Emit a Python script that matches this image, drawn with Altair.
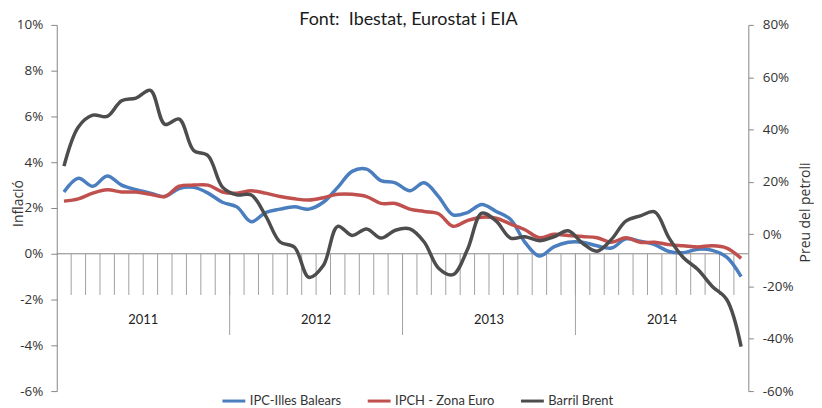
import altair as alt
import pandas as pd

# ---------------- data ----------------
years = ["2011", "2012", "2013", "2014"]
series_names = ["IPC-Illes Balears", "IPCH - Zona Euro", "Barril Brent"]
series_colors = ["#4a7ebf", "#c0504d", "#4d4d4d"]

# monthly values Jan 2011 .. Dec 2014 (%)
ipc_balears = [2.7, 3.3, 2.95, 3.4, 3.0, 2.8, 2.65, 2.5, 2.85, 2.9, 2.65, 2.25,
               2.05, 1.4, 1.8, 1.95, 2.05, 1.95, 2.25, 2.9, 3.6, 3.7, 3.2, 3.1,
               2.75, 3.1, 2.5, 1.7, 1.8, 2.15, 1.85, 1.5, 0.5, -0.1, 0.3, 0.5,
               0.5, 0.35, 0.25, 0.65, 0.55, 0.4, 0.1, 0.05, 0.2, 0.15, -0.15, -1.0]
ipch_euro = [2.3, 2.4, 2.65, 2.8, 2.7, 2.7, 2.6, 2.5, 2.95, 3.0, 3.0, 2.7,
             2.65, 2.75, 2.65, 2.5, 2.4, 2.35, 2.45, 2.6, 2.6, 2.5, 2.2, 2.2,
             1.95, 1.85, 1.75, 1.2, 1.45, 1.6, 1.55, 1.3, 1.05, 0.7, 0.85, 0.8,
             0.75, 0.7, 0.5, 0.7, 0.5, 0.5, 0.4, 0.35, 0.3, 0.35, 0.25, -0.2]
barril_brent = [26, 41, 45.5, 45, 51, 52, 55, 42, 44, 32, 30, 18,
                15, 15, 7, -3, -5, -16.5, -12, 3, -0.5, 2, -1.5, 1.5,
                2, -3, -13, -15.5, -6, 8, 5, -1.5, -1, -2.5, -1, 1.3,
                -3.5, -6.5, -2, 5, 7, 8.5, -1.5, -9, -13.5, -20, -25, -43]

left_ticks = [-6, -4, -2, 0, 2, 4, 6, 8, 10]
right_ticks = [-60, -40, -20, 0, 20, 40, 60, 80]

n = len(ipc_balears)
pos = [i + 0.5 for i in range(n)]

left_df = pd.DataFrame({
    "pos": pos + pos,
    "value": ipc_balears + ipch_euro,
    "series": [series_names[0]] * n + [series_names[1]] * n,
})
right_df = pd.DataFrame({"pos": pos, "value": barril_brent,
                         "series": [series_names[2]] * n})
month_bounds = pd.DataFrame({"b": list(range(1, n))})
year_bounds = pd.DataFrame({"b": [12, 24, 36]})
year_labels = pd.DataFrame({"c": [6, 18, 30, 42], "year": years})
base_df = pd.DataFrame({"a": [0], "b": [n]})

# ---------------- layout / styling ----------------
W, H = 695, 368
ymin, ymax = left_ticks[0], left_ticks[-1]


def left_px(v):
    # pixel row of a left-axis value (category axis decoration only)
    return H * (ymax - v) / (ymax - ymin)


axis_gray = "#868686"
tick_gray = "#a0a0a0"
label_font = "Open Sans"
text_font = "Lato"

xscale = alt.Scale(domain=[0, n], nice=False, zero=False)
yleft_scale = alt.Scale(domain=[ymin, ymax], nice=False, zero=False)
yright_scale = alt.Scale(domain=[right_ticks[0], right_ticks[-1]], nice=False, zero=False)

color = alt.Color(
    "series:N",
    scale=alt.Scale(domain=series_names, range=series_colors),
    legend=alt.Legend(
        orient="none", legendX=165, legendY=365, direction="horizontal",
        title=None, symbolType="stroke", symbolSize=529, symbolStrokeWidth=3,
        labelFont=text_font, labelFontSize=13, labelColor="#333333",
        columnPadding=20, labelOffset=3,
    ),
)

left_axis = alt.Axis(
    orient="left", values=left_ticks, labelExpr="datum.value + '%'", title="Inflació",
    grid=False, tickSize=6, labelPadding=8, domainColor=axis_gray,
    tickColor=axis_gray, labelFont=label_font, labelFontSize=13.5,
    labelColor="#333333", titleFont=label_font, titleFontSize=14,
    titleFontWeight="normal", titleColor="#333333", titleBaseline="middle",
    titleX=-38, titleY=179,
)
right_axis = alt.Axis(
    orient="right", values=right_ticks, labelExpr="datum.value + '%'",
    title="Preu del petroli", grid=False, tickSize=5, labelPadding=9,
    domainColor=axis_gray, tickColor=axis_gray, labelFont=label_font,
    labelFontSize=13.5, labelColor="#333333", titleFont=label_font,
    titleFontSize=14, titleFontWeight="normal", titleColor="#333333",
    titleAngle=270, titleBaseline="middle", titleX=57, titleY=188,
)

baseline = alt.Chart(base_df).mark_rule(color=axis_gray, strokeWidth=1).encode(
    x=alt.X("a:Q", scale=xscale, axis=None),
    x2="b:Q",
    y=alt.value(left_px(0)),
)
month_ticks = alt.Chart(month_bounds).mark_rule(color=tick_gray, strokeWidth=1).encode(
    x=alt.X("b:Q", scale=xscale, axis=None),
    y=alt.value(left_px(0)),
    y2=alt.value(left_px(-1.8)),
)
year_ticks = alt.Chart(year_bounds).mark_rule(color=tick_gray, strokeWidth=1).encode(
    x=alt.X("b:Q", scale=xscale, axis=None),
    y=alt.value(left_px(0)),
    y2=alt.value(left_px(-3.55)),
)
year_text = alt.Chart(year_labels).mark_text(
    font=text_font, fontSize=13, color="#222222", baseline="middle"
).encode(
    x=alt.X("c:Q", scale=xscale, axis=None),
    y=alt.value(left_px(-2.9)),
    text="year:N",
)
left_lines = alt.Chart(left_df).mark_line(strokeWidth=3.5, interpolate="catmull-rom").encode(
    x=alt.X("pos:Q", scale=xscale, axis=None),
    y=alt.Y("value:Q", scale=yleft_scale, axis=left_axis),
    color=color,
)
right_line = alt.Chart(right_df).mark_line(strokeWidth=3.5, interpolate="catmull-rom").encode(
    x=alt.X("pos:Q", scale=xscale, axis=None),
    y=alt.Y("value:Q", scale=yright_scale, axis=right_axis),
    color=color,
)

chart = alt.layer(
    baseline, month_ticks, year_ticks, year_text, left_lines, right_line
).resolve_scale(y="independent").properties(
    width=W,
    height=H,
    padding={"left": 49, "top": 16, "right": 66, "bottom": 16},
    autosize=alt.AutoSizeParams(type="none"),
    title=alt.TitleParams(
        "Font:\u00a0 Ibestat, Eurostat i EIA", font=text_font, fontSize=18,
        fontWeight="normal", color="#1a1a1a", anchor="middle", offset=-11, dx=6,
    ),
).configure_view(stroke=None)

chart.save("out.html", embed_options={"renderer": "svg", "actions": False})
